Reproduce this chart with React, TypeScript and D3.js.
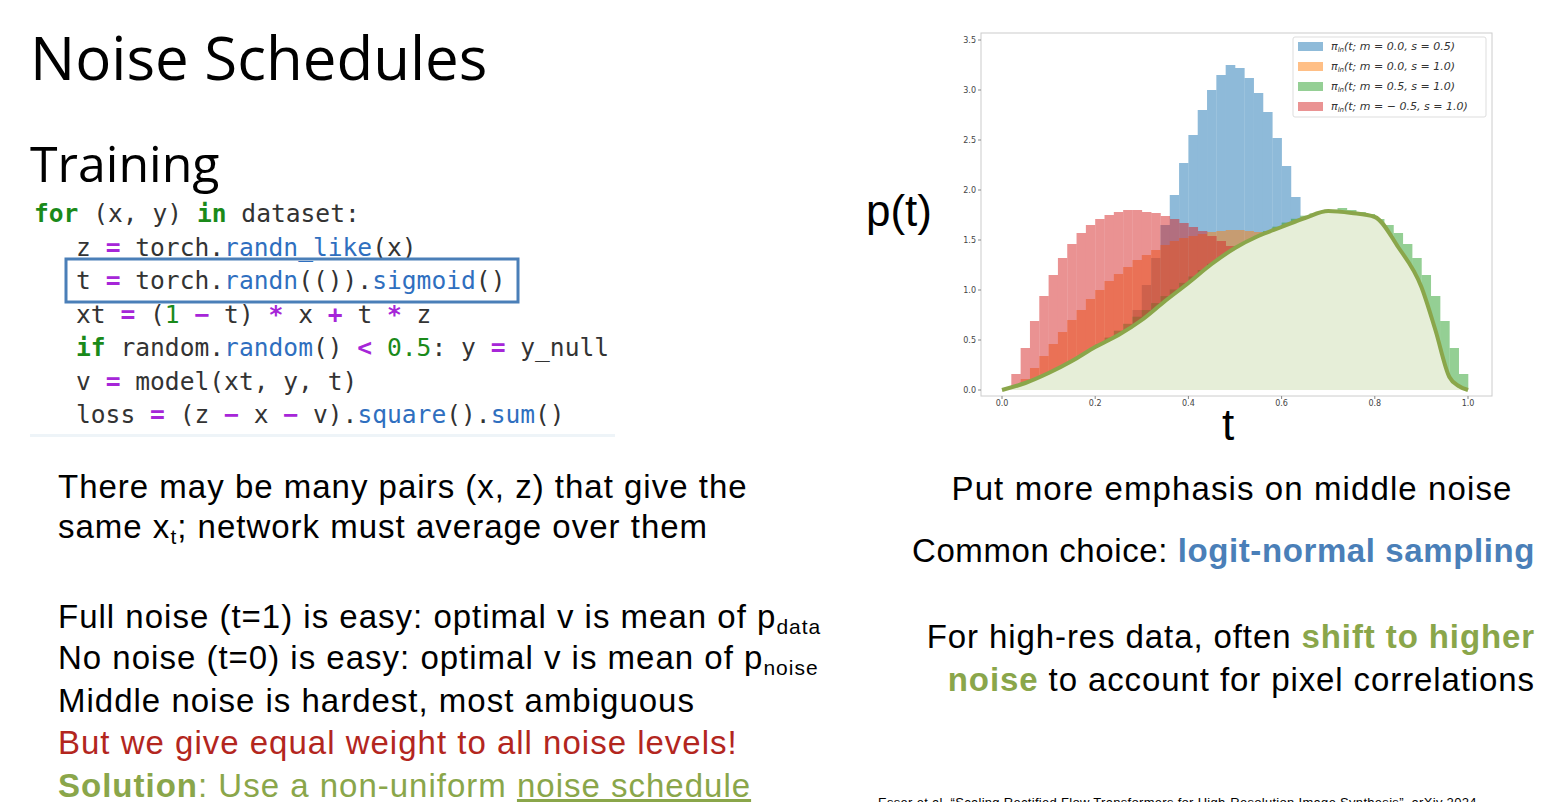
import * as d3 from "d3"

// histogram bins: 50 bins of width 0.02 over [0, 1], heights
const binEdges = d3.range(0, 50).map((i) => i * 0.02)

const blueHist = [
  0, 0, 0, 0, 0, 0, 0, 0.015, 0.04, 0.08,
  0.14, 0.25, 0.38, 0.56, 0.8, 1.05, 1.32, 1.65, 1.95, 2.27,
  2.55, 2.8, 3.0, 3.15, 3.25, 3.22, 3.12, 2.97, 2.78, 2.52,
  2.24, 1.93, 1.62, 1.32, 1.04, 0.78, 0.56, 0.38, 0.24, 0.14,
  0.08, 0.04, 0.015, 0, 0, 0, 0, 0, 0, 0,
]
const orangeHist = [
  0.001, 0.033, 0.11, 0.22, 0.34, 0.46, 0.58, 0.7, 0.8, 0.91,
  1.0, 1.09, 1.16, 1.23, 1.3, 1.35, 1.4, 1.45, 1.49, 1.52,
  1.54, 1.56, 1.58, 1.59, 1.6, 1.6, 1.59, 1.58, 1.56, 1.54,
  1.52, 1.49, 1.45, 1.4, 1.35, 1.3, 1.23, 1.16, 1.09, 1.0,
  0.91, 0.8, 0.7, 0.58, 0.46, 0.34, 0.22, 0.11, 0.033, 0.001,
]
const redHist = [
  0.009, 0.16, 0.42, 0.69, 0.94, 1.15, 1.32, 1.46, 1.57, 1.65,
  1.71, 1.75, 1.78, 1.8, 1.8, 1.78, 1.77, 1.74, 1.71, 1.67,
  1.63, 1.59, 1.54, 1.49, 1.44, 1.38, 1.32, 1.26, 1.2, 1.14,
  1.07, 1.0, 0.94, 0.87, 0.8, 0.73, 0.66, 0.59, 0.52, 0.46,
  0.39, 0.32, 0.26, 0.2, 0.14, 0.09, 0.05, 0.02, 0.005, 0,
]
const greenHist = [
  0, 0.005, 0.022, 0.053, 0.093, 0.142, 0.198, 0.257, 0.321, 0.389,
  0.455, 0.524, 0.593, 0.662, 0.733, 0.8, 0.869, 0.939, 1.005, 1.071,
  1.135, 1.2, 1.262, 1.32, 1.379, 1.436, 1.488, 1.541, 1.589, 1.633,
  1.674, 1.712, 1.743, 1.766, 1.781, 1.8, 1.82, 1.8, 1.78, 1.76,
  1.71, 1.65, 1.57, 1.46, 1.32, 1.15, 0.94, 0.69, 0.42, 0.16,
]

// hand-drawn schedule curve on top
const curveT = [0, 0.05, 0.1, 0.15, 0.2, 0.25, 0.3, 0.35, 0.4, 0.45, 0.5, 0.55, 0.6, 0.65, 0.7, 0.75, 0.8, 0.85, 0.9, 0.93, 0.96, 0.98, 1.0]
const curveP = [0, 0.07, 0.17, 0.29, 0.43, 0.55, 0.7, 0.89, 1.07, 1.26, 1.42, 1.54, 1.63, 1.72, 1.79, 1.77, 1.73, 1.43, 1.03, 0.6, 0.13, 0.04, 0]

const xTicks = [0, 0.2, 0.4, 0.6, 0.8, 1.0]
const yTicks = [0, 0.5, 1.0, 1.5, 2.0, 2.5, 3.0, 3.5]

const legendLabels = [
  ["0.0", "0.5"],
  ["0.0", "1.0"],
  ["0.5", "1.0"],
  ["\u2212 0.5", "1.0"],
]
const seriesColors = ["#1f77b4", "#ff7f0e", "#2ca02c", "#d62728"]
const series = [blueHist, orangeHist, greenHist, redHist]

type Tok = [string, string]
const codeLines: { indent: boolean; toks: Tok[] }[] = [
  { indent: false, toks: [["for", "kw"], [" (x, y) ", ""], ["in", "kw"], [" dataset:", ""]] },
  { indent: true, toks: [["z ", ""], ["=", "op"], [" torch.", ""], ["randn_like", "fn"], ["(x)", ""]] },
  { indent: true, toks: [["t ", ""], ["=", "op"], [" torch.", ""], ["randn", "fn"], ["(()).", ""], ["sigmoid", "fn"], ["()", ""]] },
  { indent: true, toks: [["xt ", ""], ["=", "op"], [" (", ""], ["1", "num"], [" ", ""], ["\u2212", "op"], [" t) ", ""], ["*", "op"], [" x ", ""], ["+", "op"], [" t ", ""], ["*", "op"], [" z", ""]] },
  { indent: true, toks: [["if", "kw"], [" random.", ""], ["random", "fn"], ["() ", ""], ["<", "op"], [" ", ""], ["0.5", "num"], [": y ", ""], ["=", "op"], [" y_null", ""]] },
  { indent: true, toks: [["v ", ""], ["=", "op"], [" model(xt, y, t)", ""]] },
  { indent: true, toks: [["loss ", ""], ["=", "op"], [" (z ", ""], ["\u2212", "op"], [" x ", ""], ["\u2212", "op"], [" v).", ""], ["square", "fn"], ["().", ""], ["sum", "fn"], ["()", ""]] },
]
const tokColor: Record<string, string> = { kw: "#1a8a1a", op: "#a626d8", fn: "#2f6fbf", num: "#1a8a1a", "": "#333" }

const GREEN = "#8aa64a"
const BLUE = "#4a7fb8"
const SANS = "'Liberation Sans', Arial, sans-serif"

function Chart() {
  const x = d3.scaleLinear().domain([0, 1]).range([1002, 1468])
  const y = d3.scaleLinear().domain([0, 3.5]).range([390, 40])
  const frame = { x0: 981, x1: 1492, y0: 33, y1: 396 }
  const area = d3.area<number>().x((_, i) => x(curveT[i])).y0(y(0)).y1((d) => y(d)).curve(d3.curveMonotoneX)
  const line = d3.line<number>().x((_, i) => x(curveT[i])).y((d) => y(d)).curve(d3.curveMonotoneX)
  const bw = x(0.02) - x(0)
  return (
    <g>
      <rect x={frame.x0} y={frame.y0} width={frame.x1 - frame.x0} height={frame.y1 - frame.y0} fill="#fff" stroke="#ccc" strokeWidth={1} />
      {series.map((s, si) => (
        <g key={si} fill={seriesColors[si]} opacity={0.5}>
          {s.map((v, i) => (v > 0 ? <rect key={i} x={x(binEdges[i])} y={y(v)} width={bw + 0.3} height={y(0) - y(v)} /> : null))}
        </g>
      ))}
      <path d={area(curveP) || ""} fill="#e6eed8" />
      <path d={line(curveP) || ""} fill="none" stroke={GREEN} strokeWidth={4} strokeLinejoin="round" />
      {xTicks.map((t) => (
        <g key={t}>
          <line x1={x(t)} x2={x(t)} y1={frame.y1} y2={frame.y1 + 3} stroke="#888" />
          <text x={x(t)} y={frame.y1 + 10} fontSize={8} textAnchor="middle" fill="#444" fontFamily="'DejaVu Sans', sans-serif">{t.toFixed(1)}</text>
        </g>
      ))}
      {yTicks.map((t) => (
        <g key={t}>
          <line x1={frame.x0 - 3} x2={frame.x0} y1={y(t)} y2={y(t)} stroke="#888" />
          <text x={frame.x0 - 5} y={y(t) + 3} fontSize={8} textAnchor="end" fill="#444" fontFamily="'DejaVu Sans', sans-serif">{t.toFixed(1)}</text>
        </g>
      ))}
      <rect x={1293} y={37} width={193} height={80} fill="#fff" fillOpacity={0.85} stroke="#ddd" rx={2} />
      {legendLabels.map(([m, s], i) => (
        <g key={i}>
          <rect x={1298} y={42 + i * 20} width={25} height={9} fill={seriesColors[i]} opacity={0.5} />
          <text x={1331} y={50 + i * 20} fontSize={11} fill="#333" fontFamily="'DejaVu Sans', sans-serif" fontStyle="italic">
            π<tspan fontSize={7} dy={2}>ln</tspan><tspan dy={-2}>(t; m = {m}, s = {s})</tspan>
          </text>
        </g>
      ))}
      <text x={866} y={226} fontSize={44} fontFamily={SANS}>p(t)</text>
      <text x={1222} y={440} fontSize={44} fontFamily={SANS}>t</text>
    </g>
  )
}

export default function App() {
  const lh = 33.5
  return (
    <svg width={1558} height={802} style={{ position: "absolute", left: 0, top: 0, background: "#fff" }}>
      <text x={30} y={80} fontSize={60} fontFamily="'Open Sans', sans-serif" fill="#000">Noise Schedules</text>
      <text x={30} y={182} fontSize={50} fontFamily="'Open Sans', sans-serif" fill="#000">Training</text>
      <rect x={30} y={434} width={585} height={3} fill="#eef4f8" />
      {codeLines.map((l, i) => (
        <text key={i} x={l.indent ? 76 : 34} y={222 + i * lh} fontSize={24.6} fontFamily="'DejaVu Sans Mono', monospace" xmlSpace="preserve" style={{ whiteSpace: "pre" }}>
          {l.toks.map(([t, k], j) => (
            <tspan key={j} fill={tokColor[k]} fontWeight={k === "kw" || k === "op" ? "bold" : "normal"}>{t}</tspan>
          ))}
        </text>
      ))}
      <rect x={66} y={259} width={452} height={43} fill="none" stroke={BLUE} strokeWidth={3} />
      <Chart />
      <g fontFamily={SANS} fontSize={33} fill="#000" letterSpacing={1}>
        <text x={58} y={498}>There may be many pairs (x, z) that give the</text>
        <text x={58} y={538}>same x<tspan fontSize={21} dy={6}>t</tspan><tspan dy={-6}>; network must average over them</tspan></text>
        <text x={58} y={628}>Full noise (t=1) is easy: optimal v is mean of p<tspan fontSize={21} dy={6}>data</tspan></text>
        <text x={58} y={669}>No noise (t=0) is easy: optimal v is mean of p<tspan fontSize={21} dy={6}>noise</tspan></text>
        <text x={58} y={712}>Middle noise is hardest, most ambiguous</text>
        <text x={58} y={754} fill="#b3261e">But we give equal weight to all noise levels!</text>
        <text x={58} y={797} fill={GREEN}><tspan fontWeight="bold">Solution</tspan>: Use a non-uniform <tspan textDecoration="underline">noise schedule</tspan></text>
        <text x={1232} y={500} textAnchor="middle" letterSpacing={1.1}>Put more emphasis on middle noise</text>
        <text x={1535} y={562} textAnchor="end" letterSpacing={0.6}>Common choice: <tspan fontWeight="bold" fill={BLUE}>logit-normal sampling</tspan></text>
        <text x={1535} y={648} textAnchor="end" letterSpacing={0.9}>For high-res data, often <tspan fontWeight="bold" fill={GREEN}>shift to higher</tspan></text>
        <text x={1535} y={691} textAnchor="end" letterSpacing={0.9}><tspan fontWeight="bold" fill={GREEN}>noise</tspan> to account for pixel correlations</text>
        <text x={878} y={807} fontSize={13} letterSpacing={0.3}>Esser et al, “Scaling Rectified Flow Transformers for High-Resolution Image Synthesis”, arXiv 2024</text>
      </g>
    </svg>
  )
}
